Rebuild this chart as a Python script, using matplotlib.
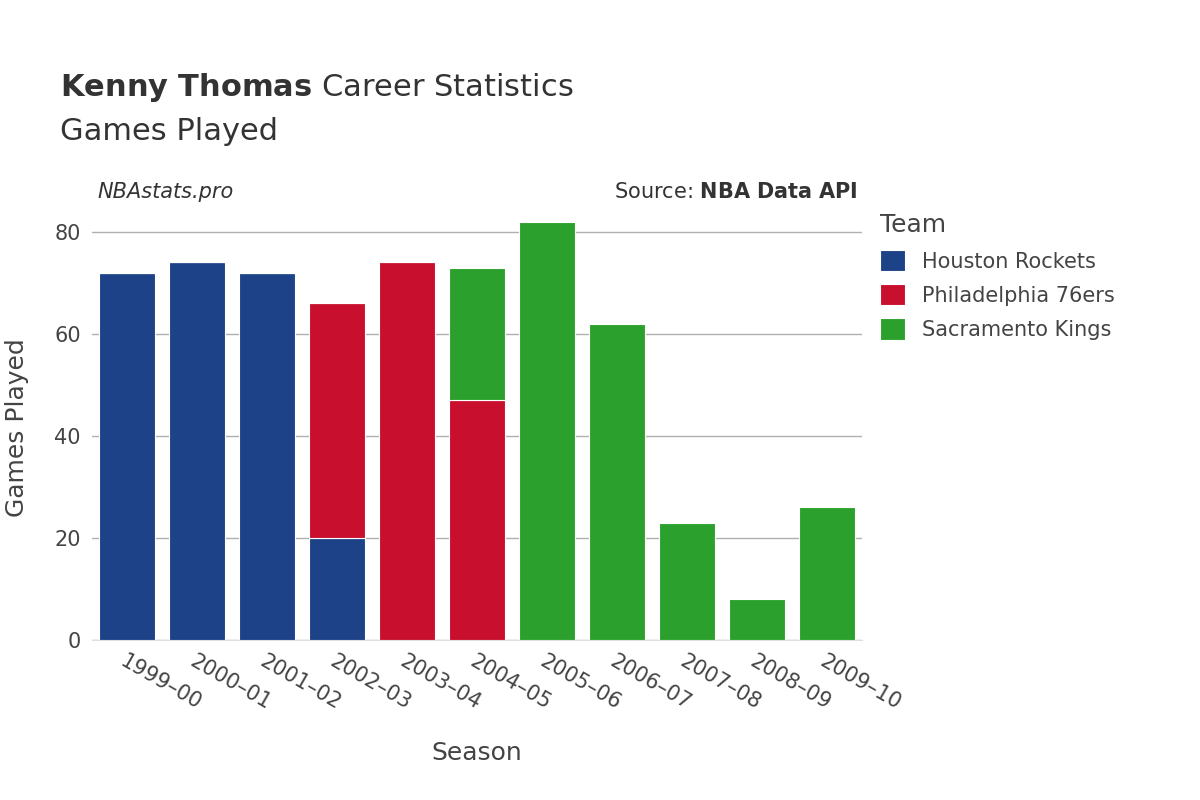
import matplotlib
matplotlib.use("Agg")
import matplotlib.pyplot as plt
import numpy as np

seasons = ["1999-00","2000-01","2001-02","2002-03","2003-04","2004-05","2005-06","2006-07","2007-08","2008-09","2009-10"]
houston = [72,74,72,20,0,0,0,0,0,0,0]
philly = [0,0,0,46,74,47,0,0,0,0,0]
sacramento = [0,0,0,0,0,26,82,62,23,8,26]
teams = ["Houston Rockets","Philadelphia 76ers","Sacramento Kings"]
colors = ["#1d4288","#c8102e","#2ca02c"]

fig = plt.figure(figsize=(12,8), dpi=100)
ax = fig.add_axes([92/1200, 160/800, 770/1200, 425/800])
x = np.arange(len(seasons))
bottom = np.zeros(len(seasons))
for vals, c, name in zip([houston, philly, sacramento], colors, teams):
    v = np.array(vals, float)
    ax.bar(x, v, 0.8, bottom=bottom, color=c, label=name, edgecolor="white", linewidth=0.8, zorder=3)
    bottom += v
ax.set_xlim(-0.5, len(seasons)-0.5)
ax.set_ylim(0, 83.3)
ax.set_yticks([0,20,40,60,80])
ax.grid(axis="y", color="#b0b0b0", linewidth=1, zorder=0)
for s in ["top","right","left"]:
    ax.spines[s].set_visible(False)
ax.spines["bottom"].set_color("#e0e0e0")
ax.tick_params(length=0, labelsize=15, colors="#444444", pad=8)
ax.set_xticks(x)
ax.set_xticklabels([s.replace("-", "–") for s in seasons], rotation=-30, ha="left", rotation_mode="anchor")
ax.set_xlabel("Season", fontsize=18, color="#444444", labelpad=20)
ax.set_ylabel("Games Played", fontsize=18, color="#444444", labelpad=18)

fig.text(60/1200, 1-88/800, r"$\bf{Kenny\ Thomas}$ Career Statistics", fontsize=22, color="#333333", va="center")
fig.text(60/1200, 1-132/800, "Games Played", fontsize=22, color="#333333", va="center")
fig.text(97/1200, 1-192/800, "NBAstats.pro", fontsize=15, style="italic", color="#333333", va="center")
fig.text(858/1200, 1-192/800, r"Source: $\bf{NBA\ Data\ API}$", fontsize=15, color="#333333", va="center", ha="right")

leg = fig.legend(loc="upper left", bbox_to_anchor=(872/1200, 1-205/800), frameon=False, fontsize=15,
                 title="Team", title_fontsize=18, handlelength=1.2, handleheight=1.2, labelspacing=0.6, borderaxespad=0)
leg._legend_box.align = "left"
for t in leg.get_texts(): t.set_color("#444444")
leg.get_title().set_color("#444444")
fig.savefig("out.png")
